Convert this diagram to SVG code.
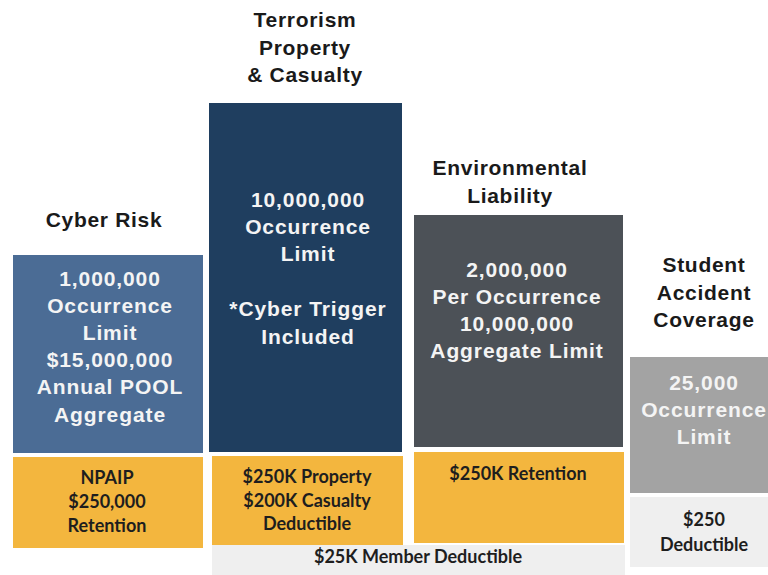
<svg xmlns="http://www.w3.org/2000/svg" width="768" height="575" viewBox="0 0 768 575">
  <style>
    .title { font-family: "Liberation Sans", Arial, sans-serif; font-weight: bold; font-size: 21px; fill: #1a1a1a; text-anchor: middle; letter-spacing: 0.7px; }
    .lim { font-family: "Liberation Sans", Arial, sans-serif; font-weight: bold; font-size: 21px; fill: #f4f4f4; text-anchor: middle; letter-spacing: 0.9px; }
    .ded { font-family: Lato, "Open Sans", sans-serif; font-weight: bold; font-size: 18px; fill: #1e1e1e; text-anchor: middle; }
    .yellow { fill: #f3b63e; }
    .light { fill: #efefef; }
  </style>
  <rect width="768" height="575" fill="#ffffff"/>

  <g id="cyber-risk">
    <text class="title" x="104" y="227">Cyber Risk</text>
    <rect x="13" y="255" width="190" height="198" fill="#4b6c95"/>
    <text class="lim" x="110" y="286">1,000,000</text>
    <text class="lim" x="110" y="313">Occurrence</text>
    <text class="lim" x="110" y="340">Limit</text>
    <text class="lim" x="110" y="367">$15,000,000</text>
    <text class="lim" x="110" y="394">Annual POOL</text>
    <text class="lim" x="110" y="422">Aggregate</text>
    <rect class="yellow" x="13" y="457" width="190" height="91"/>
    <text class="ded" x="107" y="484">NPAIP</text>
    <text class="ded" x="107" y="508">$250,000</text>
    <text class="ded" x="107" y="532">Retention</text>
  </g>

  <g id="terrorism">
    <text class="title" x="305" y="27">Terrorism</text>
    <text class="title" x="305" y="55">Property</text>
    <text class="title" x="305" y="82">&amp; Casualty</text>
    <rect x="209" y="103" width="193" height="349" fill="#1f3e5f"/>
    <text class="lim" x="308" y="207">10,000,000</text>
    <text class="lim" x="308" y="234">Occurrence</text>
    <text class="lim" x="308" y="261">Limit</text>
    <text class="lim" x="308" y="316">*Cyber Trigger</text>
    <text class="lim" x="308" y="344">Included</text>
    <rect class="yellow" x="212" y="456" width="191" height="89"/>
    <text class="ded" x="307" y="483">$250K Property</text>
    <text class="ded" x="307" y="507">$200K Casualty</text>
    <text class="ded" x="307" y="530">Deductible</text>
  </g>

  <g id="environmental">
    <text class="title" x="510" y="175">Environmental</text>
    <text class="title" x="510" y="203">Liability</text>
    <rect x="414" y="215" width="209" height="232" fill="#4c5157"/>
    <text class="lim" x="517" y="277">2,000,000</text>
    <text class="lim" x="517" y="304">Per Occurrence</text>
    <text class="lim" x="517" y="331">10,000,000</text>
    <text class="lim" x="517" y="358">Aggregate Limit</text>
    <rect class="yellow" x="414" y="452" width="210" height="91"/>
    <text class="ded" x="518" y="480">$250K Retention</text>
  </g>

  <g id="student-accident">
    <text class="title" x="704" y="272">Student</text>
    <text class="title" x="704" y="300">Accident</text>
    <text class="title" x="704" y="327">Coverage</text>
    <rect x="630" y="357" width="138" height="136" fill="#a3a3a3"/>
    <text class="lim" x="704" y="390">25,000</text>
    <text class="lim" x="704" y="417">Occurrence</text>
    <text class="lim" x="704" y="444">Limit</text>
    <rect class="light" x="630" y="497" width="138" height="70"/>
    <text class="ded" x="704" y="526">$250</text>
    <text class="ded" x="704" y="551">Deductible</text>
  </g>

  <g id="member-deductible">
    <rect class="light" x="212" y="545" width="413" height="30"/>
    <text class="ded" x="418" y="563">$25K Member Deductible</text>
  </g>

  <g id="connectors"/>
</svg>
